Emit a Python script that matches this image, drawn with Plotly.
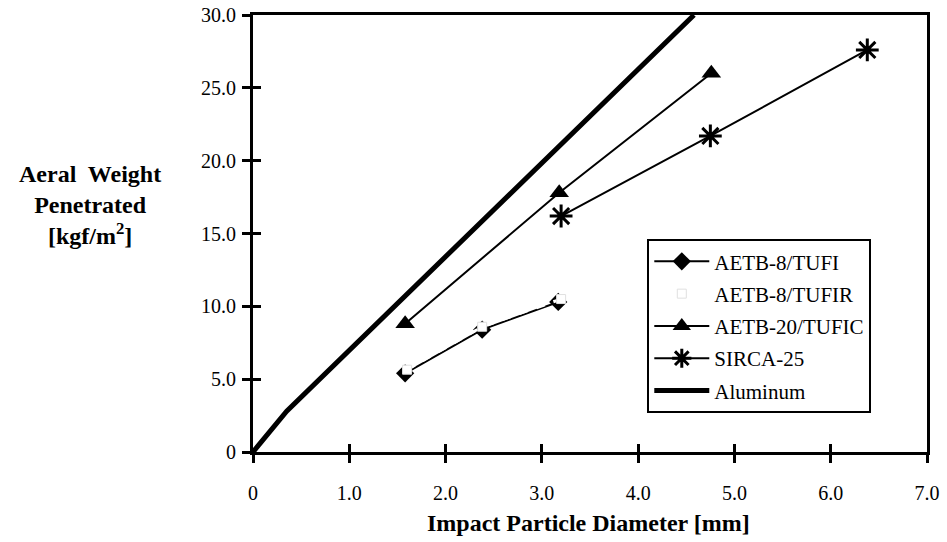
import plotly.graph_objects as go

# ---- data ----
tufi_x = [1.58, 2.38, 3.17]
tufi_y = [5.4, 8.4, 10.3]
tufir_x = [1.60, 2.38, 3.20]
tufir_y = [5.65, 8.6, 10.5]
tufic_x = [1.58, 3.18, 4.76]
tufic_y = [8.8, 17.8, 26.0]
sirca_x = [3.20, 4.75, 6.38]
sirca_y = [16.2, 21.7, 27.6]
alum_x = [0.0, 0.35, 4.58]
alum_y = [0.0, 2.8, 30.0]

x_tickvals = [0, 1, 2, 3, 4, 5, 6, 7]
x_ticktext = ["0", "1.0", "2.0", "3.0", "4.0", "5.0", "6.0", "7.0"]
y_tickvals = [0, 5, 10, 15, 20, 25, 30]
y_ticktext = ["0", "5.0", "10.0", "15.0", "20.0", "25.0", "30.0"]

FONT = "Liberation Serif"

fig = go.Figure()

fig.add_trace(go.Scatter(
    x=tufi_x, y=tufi_y, name="AETB-8/TUFI", legendgroup="a",
    mode="lines+markers",
    line=dict(color="black", width=2),
    marker=dict(symbol="diamond", size=14, color="black"),
))
fig.add_trace(go.Scatter(
    x=tufir_x, y=tufir_y, name="AETB-8/TUFIR", legendgroup="b",
    mode="lines+markers",
    line=dict(color="white", width=3, dash="dash"),
    marker=dict(symbol="square", size=9, color="white",
                line=dict(color="#e0e0e0", width=1)),
))
fig.add_trace(go.Scatter(
    x=tufic_x, y=tufic_y, name="AETB-20/TUFIC", legendgroup="c",
    mode="lines+markers",
    line=dict(color="black", width=2),
    marker=dict(symbol="triangle-up", size=17, color="black"),
))
fig.add_trace(go.Scatter(
    x=sirca_x, y=sirca_y, name="SIRCA-25", legendgroup="d",
    mode="lines+markers",
    line=dict(color="black", width=2),
    marker=dict(symbol="asterisk-open", size=19, color="black",
                line=dict(color="black", width=3)),
))
fig.add_trace(go.Scatter(
    x=alum_x, y=alum_y, name="Aluminum", legendgroup="e",
    mode="lines",
    line=dict(color="black", width=5),
))
# helper trace for the inner tick overlay axes
fig.add_trace(go.Scatter(
    x=alum_x, y=alum_y, mode="none", showlegend=False, hoverinfo="skip",
    xaxis="x2", yaxis="y2",
))

tickfont = dict(family=FONT, size=20, color="black")

fig.update_layout(
    template="none",
    width=947, height=542,
    margin=dict(l=253, r=20, t=15, b=90),
    paper_bgcolor="white", plot_bgcolor="white",
    showlegend=True,
    legend=dict(
        x=0.585, y=0.487, xanchor="left", yanchor="top",
        bordercolor="black", borderwidth=2, bgcolor="white",
        font=dict(family=FONT, size=21, color="black"),
        tracegroupgap=2, itemwidth=55,
    ),
    xaxis=dict(
        range=[0, 7], tickvals=x_tickvals, ticktext=x_ticktext,
        showgrid=False, zeroline=False, automargin=False,
        showline=True, linecolor="black", linewidth=3, mirror=True,
        ticks="outside", ticklen=8, tickwidth=3, tickcolor="black",
        tickfont=tickfont, ticklabelstandoff=13, ticklabeloverflow="allow",
    ),
    yaxis=dict(
        range=[0, 30], tickvals=y_tickvals, ticktext=y_ticktext,
        showgrid=False, zeroline=False, automargin=False,
        showline=True, linecolor="black", linewidth=3, mirror=True,
        ticks="outside", ticklen=8, tickwidth=3, tickcolor="black",
        tickfont=tickfont, ticklabelstandoff=2, ticklabeloverflow="allow",
    ),
    xaxis2=dict(
        range=[0, 7], tickvals=x_tickvals, showticklabels=False,
        overlaying="x", anchor="y2", side="bottom", automargin=False,
        showgrid=False, zeroline=False, showline=False,
        ticks="inside", ticklen=8, tickwidth=3, tickcolor="black",
    ),
    yaxis2=dict(
        range=[0, 30], tickvals=y_tickvals, showticklabels=False,
        overlaying="y", anchor="x2", side="left", automargin=False,
        showgrid=False, zeroline=False, showline=False,
        ticks="inside", ticklen=8, tickwidth=3, tickcolor="black",
    ),
    annotations=[
        dict(
            text="<b>Aeral  Weight<br>Penetrated<br>[kgf/m<sup>2</sup>]</b>",
            xref="paper", yref="paper", x=-0.242, y=0.565,
            xanchor="center", yanchor="middle", showarrow=False,
            font=dict(family=FONT, size=24, color="black"),
            align="center",
        ),
        dict(
            text="<b>Impact Particle Diameter [mm]</b>",
            xref="paper", yref="paper", x=0.4985, y=-0.162,
            xanchor="center", yanchor="middle", showarrow=False,
            font=dict(family=FONT, size=24, color="black"),
        ),
    ],
)

# remove the browser's default 8px page margin so the figure fills the window
fig.write_html("out.html", config={"displayModeBar": False},
               post_script="document.body.style.margin='0';")
